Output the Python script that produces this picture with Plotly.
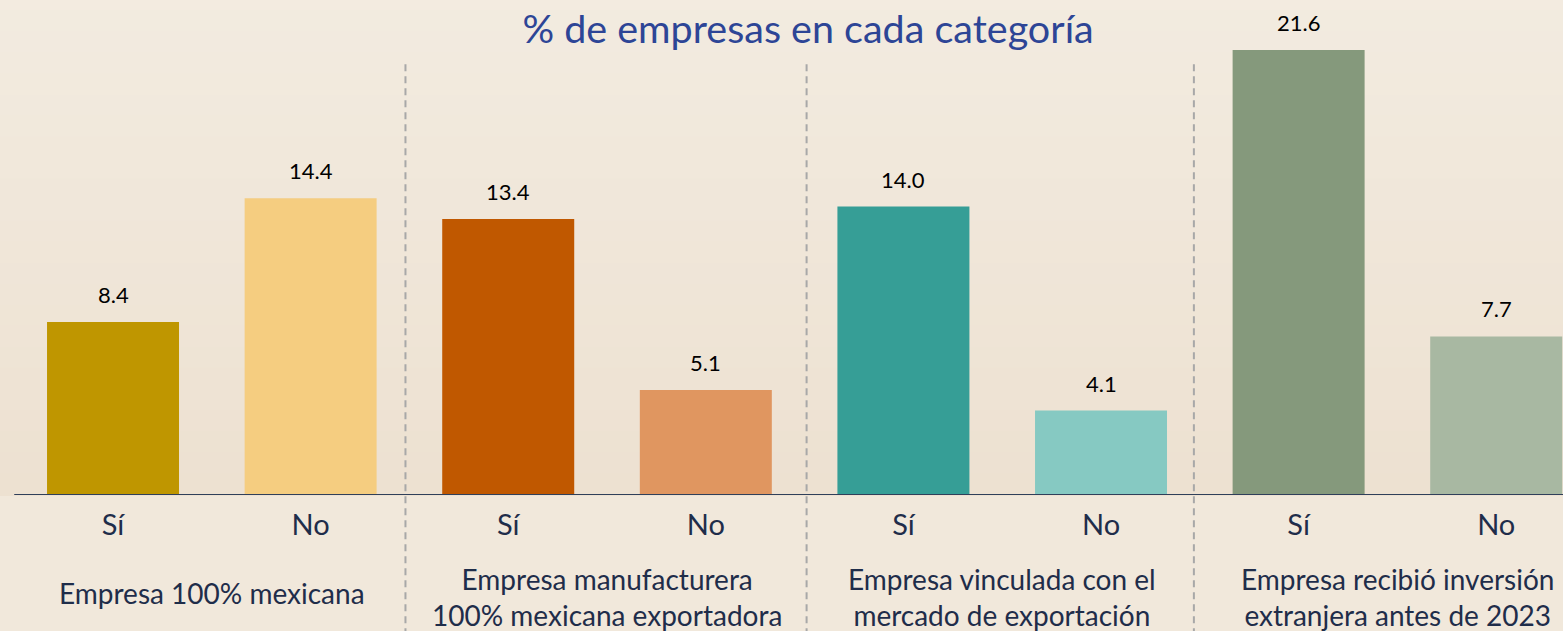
import plotly.graph_objects as go

# data
categories = ["Sí", "No", "Sí", "No", "Sí", "No", "Sí", "No"]
values = [8.4, 14.4, 13.4, 5.1, 14.0, 4.1, 21.6, 7.7]
bar_colors = ["#BF9600", "#F5CD80", "#C05800", "#E09660",
              "#369E96", "#86C9C2", "#85997C", "#A8B8A2"]
group_labels = ["Empresa 100% mexicana",
                "Empresa manufacturera<br>100% mexicana exportadora",
                "Empresa vinculada con el<br>mercado de exportación",
                "Empresa recibió inversión<br>extranjera antes de 2023"]

FONT = "Lato"
x = list(range(len(values)))

fig = go.Figure()
fig.add_trace(go.Bar(x=x, y=values, marker_color=bar_colors, width=0.668,
                     marker_line_width=0, hoverinfo="skip"))

# value labels above bars
for i, v in enumerate(values):
    fig.add_annotation(x=i, y=v, text=f"{v:.1f}", showarrow=False,
                       yanchor="bottom", yshift=12,
                       font=dict(family=FONT, size=22, color="#000000"))

# group labels under the Sí/No ticks
for g, lab in enumerate(group_labels):
    fig.add_annotation(x=2 * g + 0.5, y=-0.206 if "<br>" in lab else -0.198,
                       xref="x", yref="paper", text=lab, showarrow=False,
                       yanchor="middle",
                       font=dict(family=FONT, size=28, color="#1F2D4A"))

# dashed separators between groups
for sx in [1.48, 3.51, 5.47]:
    fig.add_shape(type="line", x0=sx, x1=sx, y0=0.87, y1=-0.3, xref="x", yref="paper",
                  line=dict(color="#A8A8A8", width=2, dash="7px,5px"))

# baseline
fig.add_shape(type="line", x0=-0.5, x1=7.34, y0=0, y1=0, xref="x", yref="y",
              line=dict(color="#2F3F5A", width=2))

# soft vertical background gradient
top = (244, 238, 228)
bot = (237, 225, 209)
n = 30
for k in range(n):
    t = k / (n - 1)
    c = tuple(round(top[j] + (bot[j] - top[j]) * t) for j in range(3))
    fig.add_shape(type="rect", xref="paper", yref="paper",
                  x0=-0.02, x1=1.02, y0=1 + 136 / 495 - (k + 1) * (631 / 495) / n - 0.002,
                  y1=1 + 136 / 495 - k * (631 / 495) / n + 0.002,
                  fillcolor=f"rgb{c}", line_width=0, layer="below")

fig.update_layout(
    width=1563, height=631,
    margin=dict(l=0, r=0, t=0, b=136),
    paper_bgcolor="rgb(241,232,219)",
    plot_bgcolor="rgba(0,0,0,0)",
    showlegend=False,
    title=dict(text="% de empresas en cada categoría", x=0.517, xanchor="center",
               y=0.953, yanchor="middle",
               font=dict(family=FONT, size=39.5, color="#2D4596")),
    xaxis=dict(range=[-0.572, 7.338], tickmode="array", tickvals=x, ticktext=categories,
               showgrid=False, zeroline=False, showline=False,
               ticks="", ticklabelstandoff=10,
               tickfont=dict(family=FONT, size=29, color="#1F2D4A"),
               fixedrange=True),
    yaxis=dict(range=[0, 24.03], visible=False, showgrid=False, fixedrange=True),
)

fig.write_html("out.html", config={"displayModeBar": False},
               post_script="document.body.style.margin='0px';")
